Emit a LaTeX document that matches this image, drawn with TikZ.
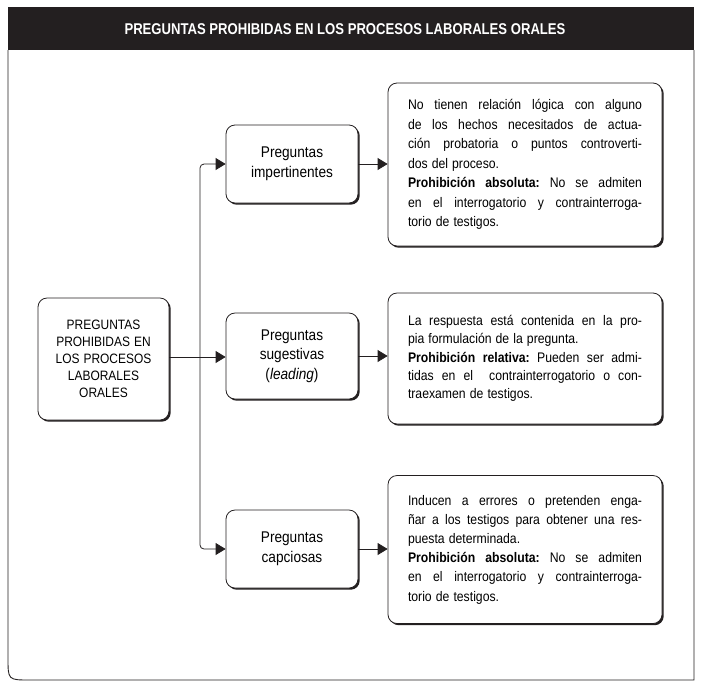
\documentclass[tikz,border=0pt]{standalone}
\usepackage{fontspec}
\usepackage{graphicx}
\setmainfont{Liberation Sans}
\usetikzlibrary{arrows.meta,shadows}
\definecolor{ink}{HTML}{231F20}
\newcommand{\cx}[1]{\scalebox{0.88}[1]{#1}}
\newcommand{\jl}[1]{\cx{\hbox to 265.9pt{\spaceskip=0.28em plus 1fil\relax
  \xspaceskip=0.28em plus 1fil\relax #1}}}
\begin{document}
\begin{tikzpicture}[x=1pt,y=-1pt,
  box/.style={draw=ink, line width=0.8pt, fill=white, rounded corners=9pt,
    drop shadow={shadow xshift=1.7pt, shadow yshift=-1.7pt, opacity=1, fill=ink}},
  leftbox/.style={box, minimum width=131pt, minimum height=122pt, text width=111pt, inner xsep=10pt,
    align=center, font=\fontsize{13.6}{17}\selectfont},
  midbox/.style={box, minimum width=132pt, minimum height=78pt, text width=112pt, inner xsep=10pt,
    align=center, font=\fontsize{15.5}{19.5}\selectfont},
  rightbox/.style={box, minimum width=274pt, text width=234pt, inner xsep=20pt,
    align=left},
  arr/.style={draw=ink, line width=0.8pt, -{Triangle[length=10pt,width=12pt]}},
  frame/.style={draw=ink, line width=0.9pt}
]
\useasboundingbox (0,0) rectangle (701,689);
% frame and header
\fill[ink] (8,7) rectangle (694,50);
\draw[frame] (8,50) -- (8,658) .. controls (8,680) .. (30,680) -- (694,680) -- (694,50);
\node (title) at (345,29) [text=white, font=\fontsize{15.6}{17}\selectfont\bfseries]
  {\scalebox{0.84}[1]{PREGUNTAS PROHIBIDAS EN LOS PROCESOS LABORALES ORALES}};
% nodes
\node[leftbox] (L) at (103.5,359) {\cx{PREGUNTAS}\\\cx{PROHIBIDAS EN}\\\cx{LOS PROCESOS}\\\cx{LABORALES}\\\cx{ORALES}};
\node[midbox] (M1) at (292,164) {\cx{Preguntas}\\\cx{impertinentes}};
\node[midbox, minimum height=86pt] (M2) at (292,356) {\cx{Preguntas}\\\cx{sugestivas}\\\cx{(\textit{leading})}};
\node[midbox] (M3) at (292,549) {\cx{Preguntas}\\\cx{capciosas}};
\node[rightbox, minimum height=163pt, font=\fontsize{13.9}{19.5}\selectfont] (R1) at (525,164.5) {%
\jl{No tienen relación lógica con alguno}\\
\jl{de los hechos necesitados de actua-}\\
\jl{ción probatoria o puntos controverti-}\\
\cx{dos del proceso.}\\
\jl{\textbf{Prohibición absoluta:} No se admiten}\\
\jl{en el interrogatorio y contrainterroga-}\\
\cx{torio de testigos.}};
\node[rightbox, minimum height=131pt, font=\fontsize{13.9}{18.2}\selectfont] (R2) at (525,358.5) {%
\jl{La respuesta está contenida en la pro-}\\
\cx{pia formulación de la pregunta.}\\
\jl{\textbf{Prohibición relativa:} Pueden ser admi-}\\
\jl{tidas en el\ \ contrainterrogatorio o con-}\\
\cx{traexamen de testigos.}};
\node[rightbox, minimum height=148pt, font=\fontsize{13.9}{19.2}\selectfont] (R3) at (525,549.5) {%
\jl{Inducen a errores o pretenden enga-}\\
\jl{ñar a los testigos para obtener una res-}\\
\cx{puesta determinada.}\\
\jl{\textbf{Prohibición absoluta:} No se admiten}\\
\jl{en el interrogatorio y contrainterroga-}\\
\cx{torio de testigos.}};
% connectors
\coordinate (T) at (200,357);
\draw[arr] (L.east |- T) -- (T -| M2.west);
\draw[arr, rounded corners=4pt] (T) |- (M1.west);
\draw[arr, rounded corners=4pt] (T) |- (M3.west);
\draw[arr] (M1.east) -- (M1.east -| R1.west);
\draw[arr] (M2.east) -- (M2.east -| R2.west);
\draw[arr] (M3.east) -- (M3.east -| R3.west);
\end{tikzpicture}
\end{document}
